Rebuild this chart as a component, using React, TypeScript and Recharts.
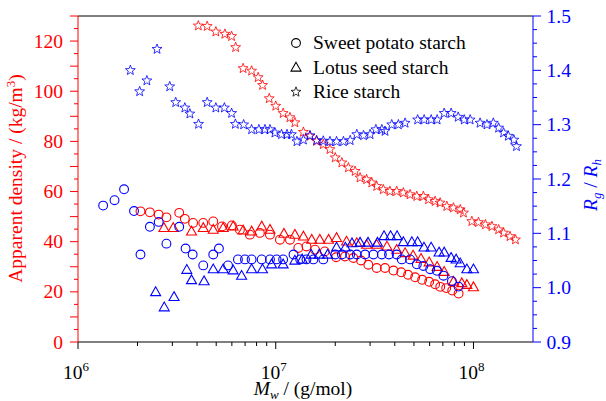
import React from "react"
import { ScatterChart, Scatter, XAxis, YAxis, ReferenceLine } from "recharts"

const RED = "#ff0000"
const BLUE = "#0000ff"
const FONT = "'Liberation Serif', 'DejaVu Serif', 'Times New Roman', serif"

// [Mw (g/mol), apparent density (kg/m3)]
const sweetPotatoDensity: [number, number][] = [
  [2.07e6, 52.1], [2.31e6, 51.7], [2.56e6, 50.8], [2.8e6, 49.7], [3.25e6, 51.5], [3.47e6, 49.1],
  [3.82e6, 47.5], [4.3e6, 47.5], [4.83e6, 48.1], [5.35e6, 46.1], [6.0e6, 46.5], [6.59e6, 44.8],
  [7.4e6, 42.8], [8.31e6, 43.5], [9.35e6, 42.8], [1.05e7, 40.8], [1.18e7, 40.8], [1.3e7, 37.5],
  [1.43e7, 38.1], [1.58e7, 36.8], [1.77e7, 36.1], [2.02e7, 33.8], [2.24e7, 34.1], [2.47e7, 33.5],
  [2.7e7, 32.5], [2.94e7, 30.8], [3.24e7, 29.5], [3.57e7, 29.5], [3.94e7, 28.5], [4.31e7, 27.8],
  [4.67e7, 26.8], [5.07e7, 25.8], [5.5e7, 24.8], [5.97e7, 24.0], [6.4e7, 23.0], [6.79e7, 22.0],
  [7.28e7, 21.5], [7.81e7, 20.5], [8.41e7, 19.3],
]
const lotusDensity: [number, number][] = [
  [2.72e6, 45.5], [3.03e6, 45.5], [3.75e6, 44.1], [4.3e6, 45.5], [4.83e6, 44.8], [5.42e6, 45.5],
  [6.09e6, 46.1], [6.84e6, 44.5], [7.55e6, 44.1], [8.49e6, 46.1], [9.35e6, 44.8], [1.1e7, 43.2],
  [1.25e7, 42.8], [1.38e7, 42.1], [1.52e7, 40.8], [1.67e7, 40.8], [1.85e7, 40.8], [2.03e7, 41.5],
  [2.28e7, 40.1], [2.57e7, 39.5], [2.88e7, 38.8], [3.24e7, 38.8], [3.65e7, 38.1], [4.09e7, 36.8],
  [4.51e7, 35.5], [4.95e7, 34.5], [5.43e7, 33.2], [5.97e7, 31.8], [6.55e7, 30.0], [7.11e7, 28.0],
  [7.92e7, 24.1], [8.73e7, 23.5], [9.26e7, 22.8], [1.0e8, 21.9],
]
const riceDensity: [number, number][] = [
  [4.06e6, 126.1], [4.5e6, 125.9], [4.98e6, 123.7], [5.53e6, 122.8], [5.98e6, 121.9], [6.27e6, 117.5],
  [6.84e6, 109.1], [7.55e6, 108.1], [8.15e6, 105.5], [8.58e6, 102.4], [9.27e6, 97.1], [1.0e7, 94.1],
  [1.09e7, 91.2], [1.18e7, 89.5], [1.25e7, 87.5], [1.38e7, 83.7], [1.49e7, 82.1], [1.61e7, 80.1],
  [1.74e7, 78.8], [1.88e7, 76.8], [2.0e7, 73.5], [2.16e7, 71.5], [2.33e7, 69.5], [2.52e7, 68.1],
  [2.67e7, 65.5], [2.88e7, 64.8], [3.06e7, 63.5], [3.24e7, 62.1], [3.5e7, 60.8], [3.78e7, 60.1],
  [4.09e7, 60.1], [4.42e7, 59.5], [4.78e7, 58.8], [5.17e7, 58.1], [5.58e7, 58.1], [5.92e7, 56.8],
  [6.4e7, 56.1], [6.78e7, 55.5], [7.33e7, 54.1], [7.92e7, 53.5], [8.57e7, 52.8], [8.9e7, 51.5],
  [9.81e7, 48.1], [1.06e8, 47.7], [1.15e8, 46.8], [1.24e8, 46.1], [1.34e8, 44.8], [1.42e8, 43.5],
  [1.53e8, 42.1], [1.63e8, 40.8],
]

// [Mw (g/mol), Rg/Rh]
const sweetPotatoRatio: [number, number][] = [
  [1.34e6, 1.151], [1.53e6, 1.161], [1.71e6, 1.181], [1.92e6, 1.141], [2.07e6, 1.061], [2.31e6, 1.112],
  [2.56e6, 1.121], [2.8e6, 1.081], [3.25e6, 1.112], [3.5e6, 1.072], [3.8e6, 1.061], [4.3e6, 1.041],
  [4.83e6, 1.061], [5.16e6, 1.072], [5.74e6, 1.041], [6.44e6, 1.052], [6.99e6, 1.052], [7.55e6, 1.052],
  [8.49e6, 1.052], [9.35e6, 1.052], [1.01e7, 1.052], [1.09e7, 1.052], [1.23e7, 1.061], [1.33e7, 1.052],
  [1.43e7, 1.052], [1.55e7, 1.052], [1.74e7, 1.052], [2.0e7, 1.061], [2.16e7, 1.061], [2.38e7, 1.061],
  [2.57e7, 1.061], [2.83e7, 1.061], [3.12e7, 1.061], [3.44e7, 1.061], [3.74e7, 1.061], [4.09e7, 1.061],
  [4.34e7, 1.052], [4.78e7, 1.052], [5.17e7, 1.043], [5.58e7, 1.04], [6.04e7, 1.034], [6.53e7, 1.031],
  [7.05e7, 1.022], [7.78e7, 1.012], [8.4e7, 1.002],
]
const lotusRatio: [number, number][] = [
  [2.47e6, 0.992], [2.73e6, 0.964], [3.06e6, 0.983], [3.55e6, 1.033], [3.75e6, 1.014], [4.34e6, 1.012],
  [4.83e6, 1.034], [5.42e6, 1.034], [6.09e6, 1.032], [6.72e6, 1.022], [7.55e6, 1.034], [8.57e6, 1.034],
  [9.53e6, 1.043], [1.09e7, 1.043], [1.25e7, 1.05], [1.36e7, 1.052], [1.51e7, 1.061], [1.66e7, 1.061],
  [1.83e7, 1.061], [2.03e7, 1.074], [2.25e7, 1.074], [2.43e7, 1.082], [2.67e7, 1.083], [2.93e7, 1.083],
  [3.27e7, 1.083], [3.53e7, 1.095], [3.81e7, 1.095], [4.11e7, 1.095], [4.42e7, 1.084], [4.88e7, 1.084],
  [5.22e7, 1.084], [5.62e7, 1.074], [6.11e7, 1.074], [6.7e7, 1.065], [7.11e7, 1.065], [7.71e7, 1.055],
  [8.17e7, 1.052], [8.57e7, 1.045], [9.26e7, 1.034], [1.0e8, 1.034],
]
const riceRatio: [number, number][] = [
  [1.84e6, 1.4], [2.05e6, 1.361], [2.23e6, 1.381], [2.51e6, 1.439], [2.91e6, 1.37], [3.12e6, 1.341],
  [3.47e6, 1.331], [3.68e6, 1.32], [4.07e6, 1.301], [4.5e6, 1.341], [4.98e6, 1.331], [5.5e6, 1.331],
  [5.98e6, 1.321], [6.25e6, 1.301], [6.88e6, 1.3], [7.55e6, 1.291], [8.22e6, 1.291], [8.82e6, 1.291],
  [9.35e6, 1.291], [9.91e6, 1.285], [1.07e7, 1.282], [1.14e7, 1.282], [1.2e7, 1.282], [1.28e7, 1.269],
  [1.38e7, 1.272], [1.49e7, 1.28], [1.61e7, 1.271], [1.74e7, 1.27], [1.88e7, 1.269], [2.03e7, 1.269],
  [2.2e7, 1.269], [2.38e7, 1.271], [2.57e7, 1.282], [2.78e7, 1.28], [3.0e7, 1.282], [3.21e7, 1.291],
  [3.44e7, 1.291], [3.57e7, 1.288], [3.86e7, 1.3], [4.17e7, 1.3], [4.51e7, 1.303], [5.22e7, 1.309],
  [5.63e7, 1.309], [6.11e7, 1.309], [6.55e7, 1.309], [7.11e7, 1.321], [7.71e7, 1.321], [8.37e7, 1.314],
  [8.98e7, 1.309], [9.62e7, 1.309], [1.08e8, 1.303], [1.17e8, 1.3], [1.26e8, 1.303], [1.34e8, 1.294],
  [1.42e8, 1.285], [1.5e8, 1.279], [1.6e8, 1.272], [1.65e8, 1.26],
]

const legendNames = ["Sweet potato starch", "Lotus seed starch", "Rice starch"]

// tick positions
const xTicks: number[] = []
for (const d of [1e6, 1e7]) for (let k = 1; k <= 9; k++) xTicks.push(k * d)
xTicks.push(1e8)
const leftTicks = Array.from({ length: 27 }, (_, i) => i * 5)
const rightTicks = Array.from({ length: 25 }, (_, i) => 0.9 + i * 0.025)

const toPts = (arr: [number, number][]) => arr.map(([x, y]) => ({ x, y }))

const txt = { fontFamily: FONT }

// marker shapes
const circleMark = (color: string) => (p: any) => (
  <circle cx={p.cx} cy={p.cy} r={4.4} fill="none" stroke={color} strokeWidth={1.1} />
)
const triMark = (color: string) => (p: any) => {
  const { cx, cy } = p
  return (
    <polygon
      points={`${cx},${cy - 5.2} ${cx - 5},${cy + 3.6} ${cx + 5},${cy + 3.6}`}
      fill="none"
      stroke={color}
      strokeWidth={1.1}
    />
  )
}
const starMark = (color: string) => (p: any) => {
  const { cx, cy } = p
  const pts: string[] = []
  for (let i = 0; i < 10; i++) {
    const r = i % 2 === 0 ? 5.2 : 2.2
    const a = -Math.PI / 2 + (i * Math.PI) / 5
    pts.push(`${(cx + r * Math.cos(a)).toFixed(2)},${(cy + r * Math.sin(a)).toFixed(2)}`)
  }
  return <polygon points={pts.join(" ")} fill="none" stroke={color} strokeWidth={0.8} />
}

function XTick(p: any) {
  const v = p.payload.value
  const lg = Math.log10(v)
  const major = Math.abs(lg - Math.round(lg)) < 1e-6
  return (
    <g>
      <line x1={p.x} x2={p.x} y1={p.y} y2={p.y + (major ? 7 : 4)} stroke="#000" />
      {major && (
        <text x={p.x - 2} y={p.y + 37} textAnchor="middle" fontSize={19.5} style={txt} fill="#000">
          10
          <tspan dy={-8} fontSize={13}>{Math.round(lg)}</tspan>
        </text>
      )}
    </g>
  )
}

function LeftTick(p: any) {
  const v = Math.round(p.payload.value)
  const major = v % 10 === 0
  return (
    <g>
      <line x1={p.x} x2={p.x - (major ? 8 : 4)} y1={p.y} y2={p.y} stroke={RED} />
      {v % 20 === 0 && (
        <text x={p.x - 15} y={p.y + 6.5} textAnchor="end" fontSize={19.5} style={txt} fill={RED}>
          {v}
        </text>
      )}
    </g>
  )
}

function RightTick(p: any) {
  const v = p.payload.value
  const tenth = Math.abs(v * 10 - Math.round(v * 10)) < 1e-6
  return (
    <g>
      <line x1={p.x} x2={p.x + (tenth ? 8 : 4)} y1={p.y} y2={p.y} stroke={BLUE} />
      {tenth && (
        <text x={p.x + 13.5} y={p.y + 6.5} textAnchor="start" fontSize={19.5} style={txt} fill={BLUE}>
          {v.toFixed(1)}
        </text>
      )}
    </g>
  )
}

export default function App() {
  const legendMarks = [circleMark("#000"), triMark("#000"), starMark("#000")]
  return (
    <div style={{ position: "relative", width: 606, height: 401, fontFamily: FONT }}>
      <style>{"body{margin:0}"}</style>
      <ScatterChart width={606} height={401} margin={{ top: 16, right: 0, bottom: 0, left: 0 }}>
        <XAxis
          dataKey="x"
          type="number"
          scale="log"
          domain={[1e6, 2e8]}
          allowDataOverflow
          ticks={xTicks}
          interval={0}
          height={59}
          axisLine={{ stroke: "#000" }}
          tickLine={false}
          tickSize={0}
          tickMargin={0}
          tick={<XTick />}
        />
        <YAxis
          yAxisId="left"
          dataKey="y"
          type="number"
          domain={[0, 130]}
          ticks={leftTicks}
          interval={0}
          width={78}
          axisLine={{ stroke: RED }}
          tickLine={false}
          tickSize={0}
          tickMargin={0}
          tick={<LeftTick />}
        />
        <YAxis
          yAxisId="right"
          orientation="right"
          dataKey="y"
          type="number"
          domain={[0.9, 1.5]}
          ticks={rightTicks}
          interval={0}
          width={73}
          axisLine={{ stroke: BLUE }}
          tickLine={false}
          tickSize={0}
          tickMargin={0}
          tick={<RightTick />}
        />
        <ReferenceLine yAxisId="left" y={130} stroke="#000" />
        <Scatter yAxisId="left" data={toPts(sweetPotatoDensity)} shape={circleMark(RED)} isAnimationActive={false} />
        <Scatter yAxisId="left" data={toPts(lotusDensity)} shape={triMark(RED)} isAnimationActive={false} />
        <Scatter yAxisId="left" data={toPts(riceDensity)} shape={starMark(RED)} isAnimationActive={false} />
        <Scatter yAxisId="right" data={toPts(sweetPotatoRatio)} shape={circleMark(BLUE)} isAnimationActive={false} />
        <Scatter yAxisId="right" data={toPts(lotusRatio)} shape={triMark(BLUE)} isAnimationActive={false} />
        <Scatter yAxisId="right" data={toPts(riceRatio)} shape={starMark(BLUE)} isAnimationActive={false} />
      </ScatterChart>
      <svg
        width={606}
        height={401}
        style={{ position: "absolute", left: 0, top: 0, pointerEvents: "none", fontFamily: FONT }}
      >
        {legendNames.map((name, i) => {
          const cy = 43 + i * 24.5
          return (
            <g key={name}>
              {legendMarks[i]({ cx: 296, cy })}
              <text x={313} y={cy + 6} fontSize={19.5} style={txt} fill="#000">{name}</text>
            </g>
          )
        })}
        <text transform="translate(21.5,178.5) rotate(-90)" textAnchor="middle" fontSize={19.5} style={txt} fill={RED}>
          Apparent density / (kg/m<tspan dy={-7} fontSize={13}>3</tspan><tspan dy={7}>)</tspan>
        </text>
        <text x={303} y={395} textAnchor="middle" fontSize={19.5} style={txt} fill="#000">
          <tspan fontStyle="italic">M</tspan>
          <tspan dy={4} fontSize={13} fontStyle="italic">w</tspan>
          <tspan dy={-4}> / (g/mol)</tspan>
        </text>
        <text transform="translate(597,185) rotate(-90)" textAnchor="middle" fontSize={19.5} style={txt} fill={BLUE}>
          <tspan fontStyle="italic">R</tspan>
          <tspan dy={4} fontSize={13} fontStyle="italic">g</tspan>
          <tspan dy={-4}> / </tspan>
          <tspan fontStyle="italic">R</tspan>
          <tspan dy={4} fontSize={13} fontStyle="italic">h</tspan>
        </text>
      </svg>
    </div>
  )
}
